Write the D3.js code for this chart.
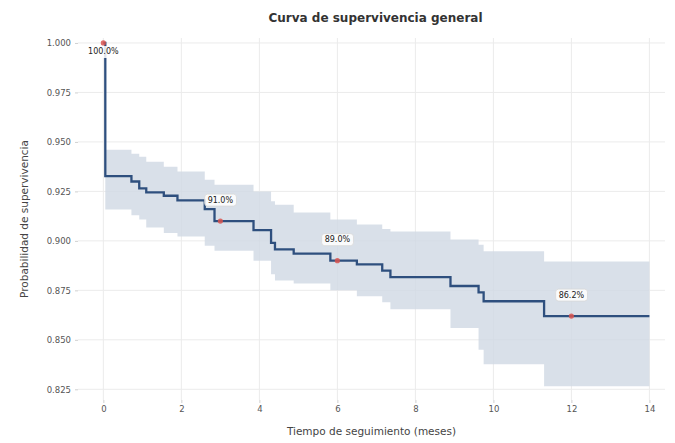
<!DOCTYPE html>
<html>
<head>
<meta charset="utf-8">
<script src="https://cdn.jsdelivr.net/npm/d3@7"></script>
<style>
  html, body { margin: 0; padding: 0; background: #ffffff; }
  svg { display: block; font-family: "DejaVu Sans", sans-serif; }
</style>
</head>
<body>
<svg id="chart" width="675" height="443"></svg>
<script>
// ---- data ----
const times     = [0, 0.05, 0.72, 0.92, 1.10, 1.55, 1.90, 2.60, 2.85, 3.85, 4.30, 4.40, 4.88, 5.82, 6.50, 7.15, 7.36, 8.90, 9.62, 9.75, 11.30, 14.0];
const survival  = [1.000, 0.9327, 0.9300, 0.9265, 0.9245, 0.9228, 0.9205, 0.9160, 0.9100, 0.9054, 0.8990, 0.8957, 0.8936, 0.8900, 0.8881, 0.8850, 0.8817, 0.8772, 0.8740, 0.8695, 0.8620, 0.8620];
const ciLower   = [1.000, 0.9158, 0.9130, 0.9108, 0.9068, 0.9040, 0.9022, 0.8975, 0.8950, 0.8900, 0.8831, 0.8800, 0.8785, 0.8750, 0.8720, 0.8690, 0.8654, 0.8560, 0.8450, 0.8377, 0.8266, 0.8266];
const ciUpper   = [1.000, 0.9461, 0.9440, 0.9425, 0.9400, 0.9375, 0.9350, 0.9309, 0.9284, 0.9249, 0.9200, 0.9183, 0.9143, 0.9108, 0.9083, 0.9060, 0.9047, 0.9007, 0.8980, 0.8947, 0.8896, 0.8896];
const markerTimes  = [0, 3, 6, 12];
const markerValues = [1.000, 0.910, 0.890, 0.862];
const markerLabels = ["100.0%", "91.0%", "89.0%", "86.2%"];
const xTicks = [0, 2, 4, 6, 8, 10, 12, 14];
const yTicks = [0.825, 0.850, 0.875, 0.900, 0.925, 0.950, 0.975, 1.000];
const titleText = "Curva de supervivencia general";
const xLabel = "Tiempo de seguimiento (meses)";
const yLabel = "Probabilidad de supervivencia";

// ---- layout ----
const L = 78, R = 665, T = 38, B = 400;
const svg = d3.select("#chart");
const x = d3.scaleLinear().domain([-0.65, 14.4]).range([L, R]);
const y = d3.scaleLinear().domain([0.8196, 1.0025]).range([B, T]);

// grid
const g = svg.append("g");
g.selectAll("line.vg").data(xTicks).join("line")
  .attr("x1", d => x(d)).attr("x2", d => x(d)).attr("y1", T).attr("y2", B)
  .attr("stroke", "#ebebeb").attr("stroke-width", 1);
g.selectAll("line.hg").data(yTicks).join("line")
  .attr("x1", L).attr("x2", R).attr("y1", d => y(d)).attr("y2", d => y(d))
  .attr("stroke", "#ebebeb").attr("stroke-width", 1);

// axes
const xAxis = svg.append("g").attr("transform", `translate(0,${B})`)
  .call(d3.axisBottom(x).tickValues(xTicks).tickFormat(d3.format("d")).tickSize(3).tickPadding(3));
const yAxis = svg.append("g").attr("transform", `translate(${L},0)`)
  .call(d3.axisLeft(y).tickValues(yTicks).tickFormat(d3.format(".3f")).tickSize(3).tickPadding(4));
[xAxis, yAxis].forEach(a => {
  a.select(".domain").remove();
  a.selectAll(".tick line").attr("stroke", "#d0d0d0");
  a.selectAll(".tick text").attr("fill", "#555").attr("font-size", 8.5).attr("font-family", "DejaVu Sans, sans-serif");
});

// confidence band
const pts = times.map((t, i) => ({t, s: survival[i], lo: ciLower[i], hi: ciUpper[i]}));
const area = d3.area().curve(d3.curveStepAfter)
  .x(d => x(d.t)).y0(d => y(d.lo)).y1(d => y(d.hi));
svg.append("path").datum(pts.slice(1)).attr("d", area)
  .attr("fill", "#cfd8e4").attr("fill-opacity", 0.8);

// survival curve
const line = d3.line().curve(d3.curveStepAfter).x(d => x(d.t)).y(d => y(d.s));
svg.append("path").datum(pts).attr("d", line)
  .attr("fill", "none").attr("stroke", "#2e4f7e").attr("stroke-width", 2.3);

// markers
const marks = markerTimes.map((t, i) => ({t, v: markerValues[i], label: markerLabels[i]}));
svg.selectAll("circle.m").data(marks).join("circle")
  .attr("cx", d => x(d.t)).attr("cy", d => y(d.v)).attr("r", 2.6)
  .attr("fill", "#d9534f").attr("opacity", 0.85);

// labels
marks.forEach((d, i) => {
  const cx = x(d.t);
  const cy = i === 0 ? y(d.v) + 9 : y(d.v) - 21;
  const lg = svg.append("g");
  const txt = lg.append("text").attr("x", cx).attr("y", cy)
    .attr("text-anchor", "middle").attr("dominant-baseline", "central")
    .attr("font-size", 8).attr("fill", "#222").text(d.label);
  const bb = txt.node().getBBox();
  lg.insert("rect", "text")
    .attr("x", bb.x - 3).attr("y", bb.y - 1.5).attr("width", bb.width + 6).attr("height", bb.height + 3)
    .attr("rx", 3).attr("fill", "#ffffff").attr("fill-opacity", 0.85)
    .attr("stroke", i === 0 ? "none" : "#d8d8d8").attr("stroke-width", 0.8);
});

// titles
svg.append("text").attr("x", (L + R) / 2 + 4).attr("y", 22).attr("text-anchor", "middle")
  .attr("font-size", 12).attr("font-weight", "bold").attr("fill", "#333").text(titleText);
svg.append("text").attr("x", (L + R) / 2).attr("y", 435).attr("text-anchor", "middle")
  .attr("font-size", 10.5).attr("fill", "#444").text(xLabel);
svg.append("text").attr("transform", `translate(28,${(T + B) / 2}) rotate(-90)`).attr("text-anchor", "middle")
  .attr("font-size", 10.5).attr("fill", "#444").text(yLabel);
</script>
</body>
</html>
